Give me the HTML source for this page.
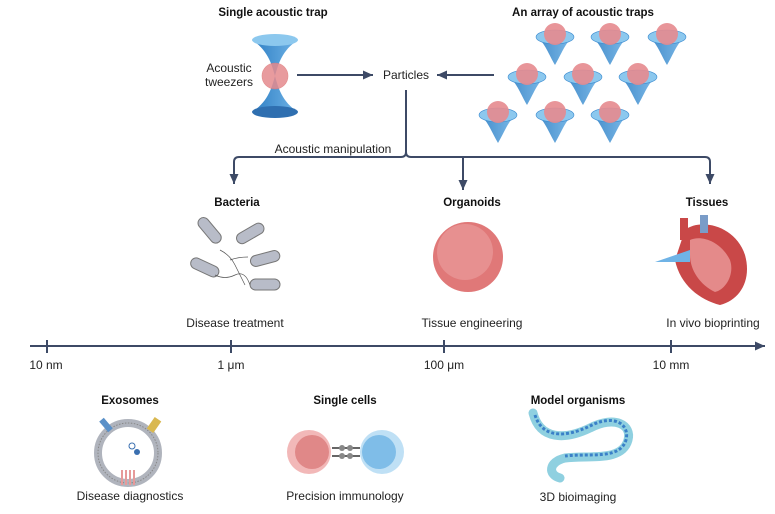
<!DOCTYPE html>
<html><head><meta charset="utf-8"><style>
body{margin:0;background:#fff;}
svg{display:block;font-family:"Liberation Sans",sans-serif;}
.t{font-weight:bold;font-size:11.5px;fill:#111;text-anchor:middle}
.l{font-size:12px;fill:#222;text-anchor:middle}
</style></head><body>
<svg width="775" height="514" viewBox="0 0 775 514">
<defs>
<marker id="a" markerUnits="userSpaceOnUse" markerWidth="12" markerHeight="12" refX="10" refY="6" orient="auto"><path d="M0,1.5 L10,6 L0,10.5 Z" fill="#3d4a66"/></marker>
<linearGradient id="cone" x1="0" x2="1"><stop offset="0" stop-color="#2f7fc4"/><stop offset="1" stop-color="#6fb3e6"/></linearGradient>
<g id="trap"><path d="M-18,2 C-10,8 -6,20 0,30 C6,20 10,8 18,2 Z" fill="url(#cone)" opacity=".9"/><ellipse cx="0" cy="2" rx="19" ry="7" fill="#8cc8ee" stroke="#3b8bd0" stroke-width=".6"/><circle cx="0" cy="-1" r="11" fill="#e58a8e" opacity=".9"/></g>
</defs>
<text class="t" x="273" y="16">Single acoustic trap</text>
<text class="t" x="583" y="16">An array of acoustic traps</text>
<path d="M252,40 C268,50 272,65 275,76 C278,65 282,50 298,40 Z" fill="url(#cone)"/>
<path d="M252,112 C268,102 272,87 275,76 C278,87 282,102 298,112 Z" fill="url(#cone)"/>
<ellipse cx="275" cy="40" rx="23" ry="6" fill="#8cc8ee"/>
<ellipse cx="275" cy="112" rx="23" ry="6" fill="#2f6fb0"/>
<circle cx="275" cy="76" r="13" fill="#e58a8e" opacity=".85" stroke="#d77" stroke-width=".6"/>
<text class="l" x="229" y="72">Acoustic</text>
<text class="l" x="229" y="86">tweezers</text>
<line x1="297" y1="75" x2="373" y2="75" stroke="#3d4a66" stroke-width="2" marker-end="url(#a)"/>
<text class="l" x="406" y="79">Particles</text>
<line x1="494" y1="75" x2="437" y2="75" stroke="#3d4a66" stroke-width="2" marker-end="url(#a)"/>
<use href="#trap" x="555" y="35"/><use href="#trap" x="610" y="35"/><use href="#trap" x="667" y="35"/>
<use href="#trap" x="527" y="75"/><use href="#trap" x="583" y="75"/><use href="#trap" x="638" y="75"/>
<use href="#trap" x="498" y="113"/><use href="#trap" x="555" y="113"/><use href="#trap" x="610" y="113"/>
<g fill="none" stroke="#3d4a66" stroke-width="2">
<path d="M406,90 V152 Q406,157 401,157 H239 Q234,157 234,162 V184" marker-end="url(#a)"/>
<path d="M406,152 Q406,157 411,157 H705 Q710,157 710,162 V184" marker-end="url(#a)"/>
<path d="M463,157 V190" marker-end="url(#a)"/>
</g>
<text class="l" x="333" y="153">Acoustic manipulation</text>
<text class="t" x="237" y="206">Bacteria</text>
<text class="t" x="472" y="206">Organoids</text>
<text class="t" x="707" y="206">Tissues</text>
<g stroke="#777" stroke-width="1" fill="#b8bcc8">
<rect x="195" y="225" width="30" height="11" rx="5.5" transform="rotate(50 210 230)"/>
<rect x="235" y="228" width="30" height="11" rx="5.5" transform="rotate(-30 250 233)"/>
<rect x="250" y="253" width="30" height="11" rx="5.5" transform="rotate(-15 265 258)"/>
<rect x="190" y="262" width="30" height="11" rx="5.5" transform="rotate(25 205 267)"/>
<rect x="250" y="279" width="30" height="11" rx="5.5"/>
<path d="M220,250 q10,5 15,15 t10,20 M230,260 q8,-3 18,-3 M215,275 q10,5 20,0 t15,10" fill="none" stroke="#555" stroke-width=".7"/>
</g>
<circle cx="468" cy="257" r="35" fill="#e07878"/>
<circle cx="465" cy="252" r="28" fill="#ea9a9a" opacity=".7"/>
<path d="M685,230 C700,218 735,225 745,255 C752,280 740,300 720,305 C700,300 680,285 675,260 Z" fill="#c94848"/>
<path d="M690,240 C700,235 720,240 730,260 C735,275 725,290 715,292 C700,285 690,270 690,255Z" fill="#e48a8a"/>
<rect x="680" y="218" width="8" height="22" fill="#c94848"/>
<rect x="700" y="215" width="8" height="18" fill="#7a9cc8"/>
<path d="M655,262 L690,250 L690,262 Z" fill="#6fb3e6"/>
<text class="l" x="235" y="327">Disease treatment</text>
<text class="l" x="472" y="327">Tissue engineering</text>
<text class="l" x="713" y="327">In vivo bioprinting</text>
<line x1="30" y1="346" x2="765" y2="346" stroke="#3d4a66" stroke-width="2" marker-end="url(#a)"/>
<g stroke="#3d4a66" stroke-width="2"><line x1="47" y1="340" x2="47" y2="353"/><line x1="231" y1="340" x2="231" y2="353"/><line x1="444" y1="340" x2="444" y2="353"/><line x1="671" y1="340" x2="671" y2="353"/></g>
<text class="l" x="46" y="369">10 nm</text>
<text class="l" x="231" y="369">1 μm</text>
<text class="l" x="444" y="369">100 μm</text>
<text class="l" x="671" y="369">10 mm</text>
<text class="t" x="130" y="404">Exosomes</text>
<text class="t" x="345" y="404">Single cells</text>
<text class="t" x="578" y="404">Model organisms</text>
<circle cx="128" cy="453" r="30" fill="#fff" stroke="#b0b4bd" stroke-width="8"/>
<circle cx="128" cy="453" r="30" fill="none" stroke="#888" stroke-width="1" stroke-dasharray="1.5 1.5"/>
<rect x="103" y="418" width="6" height="14" fill="#5a90c8" transform="rotate(-40 106 425)"/>
<rect x="150" y="418" width="8" height="14" fill="#d9b850" transform="rotate(35 154 425)"/>
<path d="M122,470 v15 M126,470 v15 M130,470 v15 M134,470 v15" stroke="#e69a9a" stroke-width="2"/>
<circle cx="132" cy="446" r="3" fill="none" stroke="#3a6fb0"/><circle cx="137" cy="452" r="3" fill="#3a6fb0"/>
<circle cx="309" cy="452" r="22" fill="#f2b8b8"/><circle cx="312" cy="452" r="17" fill="#e08888"/>
<circle cx="382" cy="452" r="22" fill="#bfe0f5"/><circle cx="379" cy="452" r="17" fill="#7fbde8"/>
<path d="M332,448 h28 M332,456 h28" stroke="#666" stroke-width="2"/>
<circle cx="342" cy="448" r="3" fill="#888"/><circle cx="350" cy="448" r="3" fill="#888"/><circle cx="342" cy="456" r="3" fill="#888"/><circle cx="350" cy="456" r="3" fill="#888"/>
<path d="M533,413 C540,440 565,440 590,428 C615,415 632,425 628,440 C622,462 590,455 565,458 C548,462 548,475 560,478" fill="none" stroke="#8fd0e0" stroke-width="9" stroke-linecap="round"/>
<path d="M535,415 C542,438 565,438 590,426 C615,413 630,425 626,440 C620,460 590,453 565,456" fill="none" stroke="#3a80c8" stroke-width="3" stroke-dasharray="3 2"/>
<text class="l" x="130" y="500">Disease diagnostics</text>
<text class="l" x="345" y="500">Precision immunology</text>
<text class="l" x="578" y="501">3D bioimaging</text>
</svg>
</body></html>
